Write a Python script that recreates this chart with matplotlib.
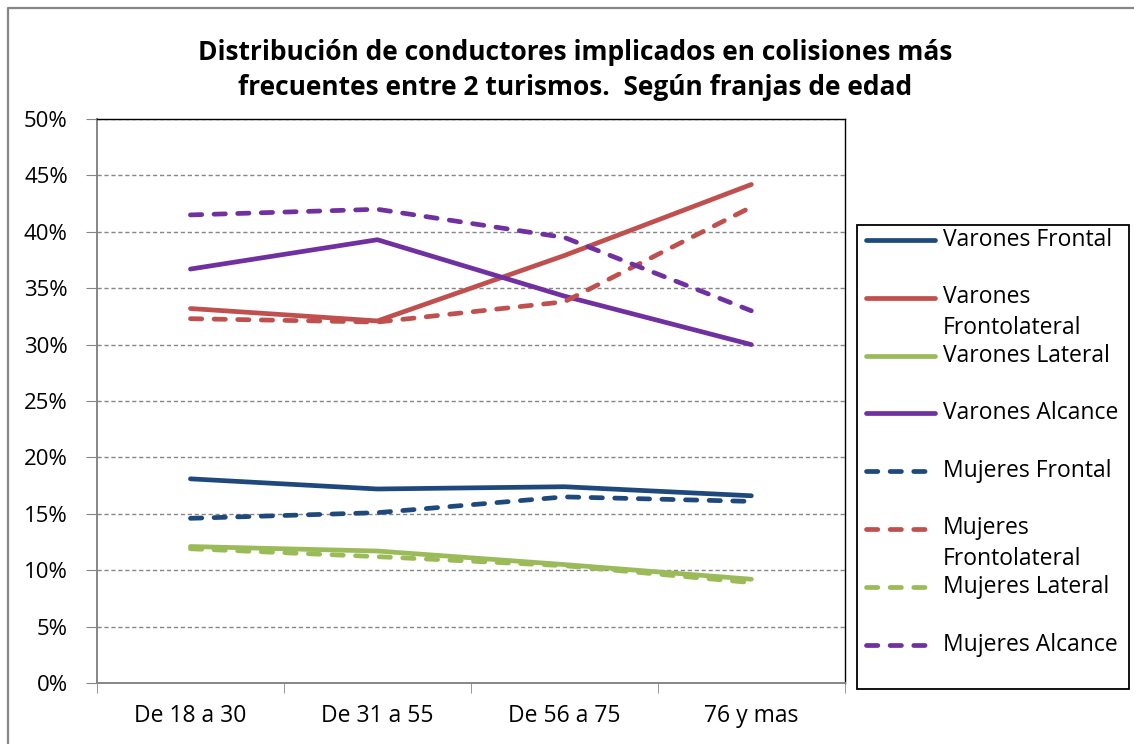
import matplotlib

matplotlib.use("Agg")
import matplotlib.pyplot as plt
from matplotlib.lines import Line2D
from matplotlib.patches import Rectangle
from matplotlib.ticker import FuncFormatter, MultipleLocator

plt.rcParams["font.family"] = ["Open Sans", "DejaVu Sans"]

age_groups = ["De 18 a 30", "De 31 a 55", "De 56 a 75", "76 y mas"]

varones_frontal = [18.1, 17.2, 17.4, 16.6]
varones_frontolateral = [33.2, 32.1, 37.9, 44.2]
varones_lateral = [12.1, 11.7, 10.5, 9.2]
varones_alcance = [36.7, 39.3, 34.3, 30.0]
mujeres_frontal = [14.6, 15.1, 16.5, 16.1]
mujeres_frontolateral = [32.3, 32.0, 33.8, 42.2]
mujeres_lateral = [11.9, 11.2, 10.4, 8.9]
mujeres_alcance = [41.5, 42.0, 39.5, 33.0]

series = [
    ("Varones Frontal", varones_frontal, "#1F497D", "solid"),
    ("Varones\nFrontolateral", varones_frontolateral, "#C0504D", "solid"),
    ("Varones Lateral", varones_lateral, "#9BBB59", "solid"),
    ("Varones Alcance", varones_alcance, "#7030A0", "solid"),
    ("Mujeres Frontal", mujeres_frontal, "#1F497D", "dashed"),
    ("Mujeres\nFrontolateral", mujeres_frontolateral, "#C0504D", "dashed"),
    ("Mujeres Lateral", mujeres_lateral, "#9BBB59", "dashed"),
    ("Mujeres Alcance", mujeres_alcance, "#7030A0", "dashed"),
]

DASH = (2.4, 2.6)
LW = 3.4
GREY = "#868686"

fig = plt.figure(figsize=(11.34, 7.44), dpi=100)
ax = fig.add_axes([0.0855, 0.082, 0.6595, 0.758])

x = list(range(len(age_groups)))
for label, values, color, style in series:
    kw = dict(color=color, linewidth=LW, solid_capstyle="round", dash_capstyle="round")
    if style == "dashed":
        ax.plot(x, values, dashes=DASH, **kw)
    else:
        ax.plot(x, values, **kw)

ax.set_xlim(-0.5, len(age_groups) - 0.5)
ax.set_ylim(0, 50)
ax.yaxis.set_major_locator(MultipleLocator(5))
ax.yaxis.set_major_formatter(FuncFormatter(lambda v, _: f"{v:.0f}%"))
ax.set_xticks(x)
ax.set_xticklabels(age_groups)
ax.set_xticks([i - 0.5 for i in range(len(age_groups) + 1)], minor=True)
ax.tick_params(axis="x", which="major", length=0, pad=15, labelsize=16.5)
ax.tick_params(axis="x", which="minor", length=7, color=GREY, direction="out")
ax.tick_params(axis="y", length=8, color=GREY, labelsize=16, pad=13)
ax.grid(axis="y", linestyle=(0, (3, 2)), color=GREY, linewidth=1.0)
ax.set_axisbelow(True)
for side in ("left", "bottom"):
    ax.spines[side].set_color(GREY)
    ax.spines[side].set_linewidth(1.4)
for side in ("top", "right"):
    ax.spines[side].set_color("black")
    ax.spines[side].set_linewidth(1.0)

fig.text(0.507, 0.906,
         "Distribución de conductores implicados en colisiones más\n"
         "frecuentes entre 2 turismos.  Según franjas de edad",
         ha="center", va="center", fontsize=19, fontweight="bold",
         linespacing=1.38)

# legend drawn by hand to keep Excel-like fixed row spacing
W, H = 1134.0, 744.0
fig.add_artist(Rectangle((857 / W, 1 - 689 / H), 272 / W, 464 / H,
                         transform=fig.transFigure, fill=False,
                         edgecolor="black", linewidth=1.3))
for i, (label, values, color, style) in enumerate(series):
    yc = 1 - (240 + 57.8 * i) / H
    kw = dict(color=color, linewidth=LW, solid_capstyle="round", dash_capstyle="round")
    if style == "dashed":
        line = Line2D([866 / W, 928 / W], [yc, yc], transform=fig.transFigure,
                      dashes=DASH, **kw)
    else:
        line = Line2D([866 / W, 935 / W], [yc, yc], transform=fig.transFigure, **kw)
    fig.add_artist(line)
    if "\n" in label:
        fig.text(943 / W, yc + 13 / H, label, ha="left", va="top", fontsize=16.5,
                 linespacing=1.4, transform=fig.transFigure)
    else:
        fig.text(943 / W, yc, label, ha="left", va="center", fontsize=16.5,
                 transform=fig.transFigure)

# outer chart border (only top and left visible in the crop)
fig.add_artist(Line2D([8 / W, 8 / W, 1.0], [0.0, 1 - 8 / H, 1 - 8 / H],
                      transform=fig.transFigure, color=GREY, linewidth=1.6))

fig.savefig("out.png", dpi=100)
